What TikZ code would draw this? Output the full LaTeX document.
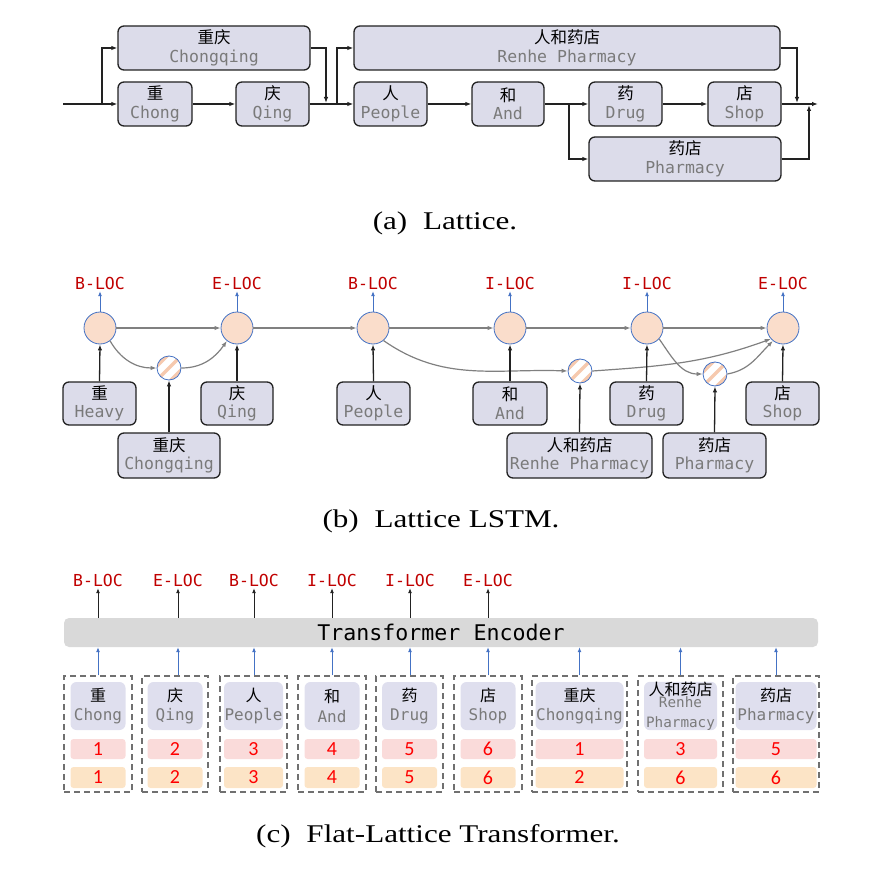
\documentclass[tikz,border=0pt]{standalone}
\usepackage{fontspec}
\setmainfont{Liberation Serif}
\setmonofont{DejaVu Sans Mono}
\newfontfamily\cjk{Noto Sans CJK SC}
\newfontfamily\capfont[FakeStretch=1.22]{Liberation Serif}
\newfontfamily\numfont{Carlito}
\usetikzlibrary{arrows.meta,calc}
\definecolor{lav}{HTML}{DCDCEA}
\definecolor{lavc}{HTML}{DFDFEE}
\definecolor{txtg}{HTML}{7A7A7A}
\definecolor{tagred}{HTML}{C00000}
\definecolor{peach}{HTML}{FADDCB}
\definecolor{peachs}{HTML}{F6C9AE}
\definecolor{cblue}{HTML}{4472C4}
\definecolor{pinkb}{HTML}{FADBDA}
\definecolor{orab}{HTML}{FCE4C6}
\definecolor{encg}{HTML}{D9D9D9}
\definecolor{dashg}{HTML}{707070}
\definecolor{linek}{HTML}{222222}
\newcommand\wtxt[2]{{\cjk #1}\\{\color{txtg}\ttfamily #2}}
\tikzset{
  wbox/.style={draw=linek, line width=1.3pt, fill=lav, rounded corners=6pt, inner sep=0pt, align=center,
    font=\fontsize{16.5}{18.5}\selectfont},
  arr/.style={-{Latex[length=6pt,width=4.5pt]}, line width=1.3pt, draw=linek},
  garr/.style={-{Latex[length=6pt,width=4.5pt]}, line width=1.2pt, draw=black!50},
  karr/.style={-{Latex[length=6pt,width=4.5pt]}, line width=1.3pt, draw=linek},
  kthin/.style={-{Latex[length=5pt,width=4pt]}, line width=0.9pt, draw=linek},
  barr/.style={-{Latex[length=5pt,width=4pt]}, line width=0.9pt, draw=cblue},
  tag/.style={text=tagred, font=\fontsize{16.5}{18}\ttfamily, inner sep=2pt, text height=12pt, text depth=0pt},
  bigc/.style={circle, draw=cblue, line width=0.8pt, fill=peach, minimum size=32pt, inner sep=0pt},
  smallc/.style={circle, draw=cblue, line width=0.8pt, fill=white, minimum size=24pt, inner sep=0pt,
    path picture={\foreach \o in {-7,0,7}{\draw[peachs, line width=3.5pt]
      ([shift={(-20+\o,20+\o)}]path picture bounding box.center) --
      ([shift={(20+\o,-20+\o)}]path picture bounding box.center);}}},
  dbox/.style={draw=dashg, line width=1.5pt, dash pattern=on 6pt off 4pt, minimum height=116pt, inner sep=0pt},
  cword/.style={fill=lavc, rounded corners=6pt, minimum height=48pt, inner sep=0pt, align=center,
    font=\fontsize{16}{19.5}\selectfont},
  pbox/.style={fill=pinkb, rounded corners=3pt, minimum height=20pt, inner sep=0pt, text=red,
    font=\fontsize{20}{20}\numfont},
  obox/.style={fill=orab, rounded corners=3pt, minimum height=21pt, inner sep=0pt, text=red,
    font=\fontsize{20}{20}\numfont},
  enc/.style={fill=encg, rounded corners=5pt, inner sep=0pt, font=\fontsize{21.6}{24}\ttfamily},
  captxt/.style={font=\fontsize{25.5}{30}\capfont, inner sep=0pt, anchor=base},
}
\newcommand\flcell[7]{%
  \node[dbox, minimum width=#3pt] (#1) at (#2,734) {};
  \node[cword, minimum width=#4pt] (#1w) at (#2,706) {#5};
  \node[pbox, minimum width=#4pt] (#1p) at (#2,749) {#6};
  \node[obox, minimum width=#4pt] (#1o) at (#2,777.5) {#7};
}
\begin{document}
\begin{tikzpicture}[x=1pt,y=-1pt]
\useasboundingbox (0,0) rectangle (868,882);
% ---------------- (a) Lattice ----------------
\node[wbox, minimum width=192pt, minimum height=44pt] (acq) at (214,48) {\wtxt{重庆}{Chongqing}};
\node[wbox, minimum width=74pt, minimum height=44pt] (ach) at (155,104) {\wtxt{重}{Chong}};
\node[wbox, minimum width=73pt, minimum height=44pt] (aqi) at (272.5,104) {\wtxt{庆}{Qing}};
\node[wbox, minimum width=73pt, minimum height=44pt] (ape) at (390.5,104) {\wtxt{人}{People}};
\node[wbox, minimum width=426pt, minimum height=44pt] (are) at (567,48) {\wtxt{人和药店}{Renhe Pharmacy}};
\node[wbox, minimum width=72pt, minimum height=44pt] (aan) at (508,104) {\wtxt{和}{And}};
\node[wbox, minimum width=73pt, minimum height=44pt] (adr) at (625.5,104) {\wtxt{药}{Drug}};
\node[wbox, minimum width=73pt, minimum height=44pt] (ash) at (744.5,104) {\wtxt{店}{Shop}};
\node[wbox, minimum width=192pt, minimum height=44pt] (aph) at (685,159) {\wtxt{药店}{Pharmacy}};
\coordinate (ain) at (63,104);
\coordinate (aj1) at (102,104);
\coordinate (aj2) at (326,103);
\coordinate (aj3) at (337,104);
\coordinate (aj4) at (569,104);
\coordinate (aj5) at (797,103);
\coordinate (aj6) at (809,105);
\coordinate (aout) at (818,104);
\draw[arr] (ain) -- (ach.west);
\draw[arr] (aj1) |- (acq.west);
\draw[arr] (ach) -- (aqi);
\draw[arr] (aqi.east) -- (ape.west);
\draw[arr] (acq.east) -| (aj2);
\draw[arr] (aj3) |- (are.west);
\draw[arr] (ape) -- (aan);
\draw[arr] (aan) -- (adr);
\draw[arr] (aj4) |- (aph.west);
\draw[arr] (adr) -- (ash);
\draw[arr] (ash.east) -- (aout);
\draw[arr] (are.east) -| (aj5);
\draw[arr] (aph.east) -| (aj6);
\node[captxt] (capa) at (445,230) {(a)\hspace{8pt} Lattice.};
% ---------------- (b) Lattice LSTM ----------------
\node[bigc] (c1) at (100,328) {};
\node[bigc] (c2) at (237,328) {};
\node[bigc] (c3) at (373,328) {};
\node[bigc] (c4) at (510,328) {};
\node[bigc] (c5) at (647,328) {};
\node[bigc] (c6) at (783,328) {};
\node[smallc] (s1) at (169,368) {};
\node[smallc] (s2) at (580,371) {};
\node[smallc] (s3) at (715,374) {};
\node[tag] (bt1) at (100,283) {B-LOC};
\node[tag] (bt2) at (237,283) {E-LOC};
\node[tag] (bt3) at (373,283) {B-LOC};
\node[tag] (bt4) at (510,283) {I-LOC};
\node[tag] (bt5) at (647,283) {I-LOC};
\node[tag] (bt6) at (783,283) {E-LOC};
\foreach \i in {1,...,6}{\draw[barr] (c\i.north) -- (bt\i.south);}
\draw[garr] (c1) -- (c2);
\draw[garr] (c2) -- (c3);
\draw[garr] (c3) -- (c4);
\draw[garr] (c4) -- (c5);
\draw[garr] (c5) -- (c6);
\draw[garr] (c1.-52) to[out=-60,in=180] (s1.west);
\draw[garr] (s1.east) to[out=0,in=-125] (c2.-128);
\draw[garr] (c3.-50) to[out=-35,in=178] (s2.west);
\draw[garr] (s2.east) to[out=4,in=-160] (c6.-138);
\draw[garr] (c5.-42) to[out=-55,in=180] (s3.west);
\draw[garr] (s3.east) to[out=10,in=-135] (c6.-128);
\node[wbox, minimum width=73pt, minimum height=43pt] (bhe) at (99.5,403.5) {\wtxt{重}{Heavy}};
\node[wbox, minimum width=72pt, minimum height=43pt] (bqi) at (237,403.5) {\wtxt{庆}{Qing}};
\node[wbox, minimum width=73pt, minimum height=43pt] (bpe) at (373.5,403.5) {\wtxt{人}{People}};
\node[wbox, minimum width=74pt, minimum height=43pt] (ban) at (510,403.5) {\wtxt{和}{And}};
\node[wbox, minimum width=73pt, minimum height=43pt] (bdr) at (646.5,403.5) {\wtxt{药}{Drug}};
\node[wbox, minimum width=73pt, minimum height=43pt] (bsh) at (782.5,403.5) {\wtxt{店}{Shop}};
\node[wbox, minimum width=102pt, minimum height=45pt] (bcq) at (169,455.5) {\wtxt{重庆}{Chongqing}};
\node[wbox, minimum width=145pt, minimum height=45pt] (bre) at (579.5,455.5) {\wtxt{人和药店}{Renhe Pharmacy}};
\node[wbox, minimum width=103pt, minimum height=45pt] (bph) at (714.5,455.5) {\wtxt{药店}{Pharmacy}};
\draw[karr] (bhe.north) -- (c1.south);
\draw[karr] (bqi.north) -- (c2.south);
\draw[karr] (bpe.north) -- (c3.south);
\draw[karr] (ban.north) -- (c4.south);
\draw[karr] (bdr.north) -- (c5.south);
\draw[karr] (bsh.north) -- (c6.south);
\draw[karr] (bcq.north) -- (s1.south);
\draw[karr] (bre.north) -- (s2.south);
\draw[karr] (bph.north) -- (s3.south);
\node[captxt] (capb) at (441,527) {(b)\hspace{8pt} Lattice LSTM.};
% ---------------- (c) Flat-Lattice Transformer ----------------
\node[enc, minimum width=754pt, minimum height=29pt] (enc) at (441,632.5) {Transformer Encoder};
\node[tag] (ct1) at (98,580) {B-LOC};
\node[tag] (ct2) at (178,580) {E-LOC};
\node[tag] (ct3) at (254,580) {B-LOC};
\node[tag] (ct4) at (332,580) {I-LOC};
\node[tag] (ct5) at (410,580) {I-LOC};
\node[tag] (ct6) at (488,580) {E-LOC};
\foreach \i in {1,...,6}{\draw[kthin] (enc.north -| ct\i) -- (ct\i.south);}
\flcell{d1}{98}{68}{55}{\wtxt{重}{Chong}}{1}{1}
\flcell{d2}{175}{66}{55}{\wtxt{庆}{Qing}}{2}{2}
\flcell{d3}{253.5}{67}{59}{\wtxt{人}{People}}{3}{3}
\flcell{d4}{332}{68}{55}{\wtxt{和}{And}}{4}{4}
\flcell{d5}{409.5}{67}{55}{\wtxt{药}{Drug}}{5}{5}
\flcell{d6}{488}{68}{55}{\wtxt{店}{Shop}}{6}{6}
\flcell{d7}{579.5}{95}{88}{\wtxt{重庆}{Chongqing}}{1}{2}
\flcell{d8}{680.5}{85}{73}{{\cjk 人和药店}\\[-7pt]{\fontsize{14.3}{19.5}\selectfont\color{txtg}\ttfamily Renhe}\\{\fontsize{14.3}{19.5}\selectfont\color{txtg}\ttfamily Pharmacy}}{3}{6}
\flcell{d9}{776}{86}{81}{\wtxt{药店}{Pharmacy}}{5}{6}
\foreach \i/\t in {1/ct1,2/ct2,3/ct3,4/ct4,5/ct5,6/ct6}{\draw[barr] (d\i.north -| \t) -- (enc.south -| \t);}
\foreach \i in {7,8,9}{\draw[barr] (d\i.north) -- (enc.south -| d\i);}
\node[captxt] (capc) at (438,842) {(c)\hspace{8pt} Flat-Lattice Transformer.};
\end{tikzpicture}
\end{document}
